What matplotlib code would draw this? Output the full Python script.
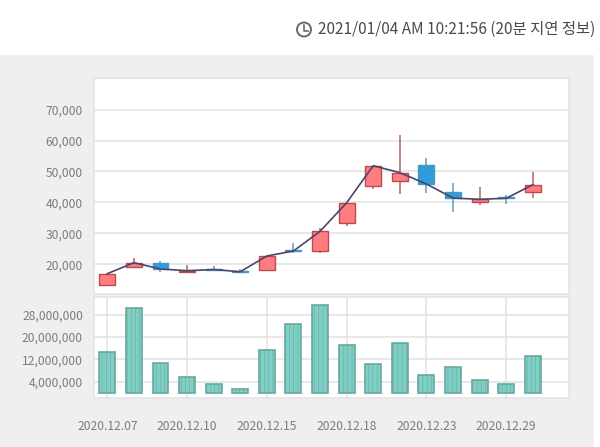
import matplotlib
matplotlib.use("Agg")
import matplotlib.pyplot as plt
from matplotlib.patches import Rectangle, Ellipse
from matplotlib.lines import Line2D
import numpy as np

plt.rcParams['font.family'] = ['Noto Sans CJK KR', 'DejaVu Sans']
plt.rcParams['hatch.color'] = '#68a89f'
plt.rcParams['hatch.linewidth'] = 0.4

dates = ['2020.12.07', '2020.12.08', '2020.12.09', '2020.12.10', '2020.12.11', '2020.12.14',
         '2020.12.15', '2020.12.16', '2020.12.17', '2020.12.18', '2020.12.21', '2020.12.22',
         '2020.12.23', '2020.12.24', '2020.12.28', '2020.12.29', '2020.12.30']
open_p = [13400, 19130, 20520, 17510, 18500, 17800, 18060, 24700, 24200, 33340, 45300, 46820,
          52200, 43450, 40230, 41650, 43260]
close_p = [16960, 20520, 18480, 17930, 18300, 17600, 22680, 24300, 30660, 39900, 51860, 49600,
           45950, 41400, 41000, 41330, 45720]
high_p = [16960, 21940, 21160, 19770, 19450, 18400, 22680, 26800, 31830, 39900, 51860, 61780,
          54440, 46370, 44880, 42400, 49820]
low_p = [13400, 19130, 17600, 17510, 17800, 17500, 18060, 23700, 23750, 32370, 44230, 42800,
         43130, 36990, 39260, 39600, 41520]
volume = [14550000, 30260000, 10750000, 5680000, 3190000, 1530000, 15360000, 24700000, 31430000,
          17030000, 10290000, 17950000, 6490000, 9440000, 4830000, 3190000, 13230000]

price_ticks = [20000, 30000, 40000, 50000, 60000, 70000]
vol_ticks = [4000000, 12000000, 20000000, 28000000]
date_ticks = [0, 3, 6, 9, 12, 15]

W, H = 600, 447
grid_c = '#e2e2e2'
text_c = '#7c7c7c'


def px_axes(x0, y0, x1, y1):
    # pixel box, y from the top of the picture
    return fig.add_axes([x0 / W, 1 - y1 / H, (x1 - x0) / W, (y1 - y0) / H])


fig = plt.figure(figsize=(6, 4.47), dpi=100, facecolor='white')
fig.add_artist(Rectangle((0, 0), 594 / W, 1 - 55 / H, transform=fig.transFigure, fc='#efefef', ec='none', zorder=-1))

x = np.arange(len(dates))

ax = px_axes(94, 78, 569, 294)
ax.set_xlim(-0.5, 17.36)
ax.set_ylim(20000 - 29.7 / 30.95 * 10000, 20000 + 186.3 / 30.95 * 10000)
ax.set_yticks(price_ticks)
ax.set_yticklabels([f'{v:,}' for v in price_ticks], fontsize=8.7, color=text_c)
ax.set_xticks([])
ax.grid(axis='y', color=grid_c, lw=1.1)
ax.set_axisbelow(True)
ax.tick_params(axis='y', length=0, pad=8)
for s in ax.spines.values():
    s.set_color(grid_c)
    s.set_linewidth(1.1)

for i in x:
    up = close_p[i] >= open_p[i]
    fc = '#ff7d80' if up else '#2f9dd9'
    ec = '#bf4a4e' if up else '#4d95c4'
    wick = '#bd6d70' if up else '#6ba3c9'
    ax.vlines(i, low_p[i], high_p[i], color=wick, lw=1.2, zorder=2)
    ax.bar(i, abs(close_p[i] - open_p[i]), bottom=min(open_p[i], close_p[i]), width=0.6,
           facecolor=fc, edgecolor=ec, lw=1.0, zorder=3)
ax.plot(x, close_p, color='#4a4668', lw=1.2, zorder=4)

ax2 = px_axes(94, 297, 569, 398)
ax2.set_xlim(-0.5, 17.36)
ax2.set_ylim(-1770000, 34270000)
ax2.set_yticks(vol_ticks)
ax2.set_yticklabels([f'{v:,}' for v in vol_ticks], fontsize=8.7, color=text_c)
ax2.set_xticks(date_ticks)
ax2.set_xticklabels([dates[i] for i in date_ticks], fontsize=8.7, color=text_c)
ax2.grid(axis='both', color=grid_c, lw=1.1)
ax2.set_axisbelow(True)
ax2.tick_params(axis='y', length=0, pad=8)
ax2.tick_params(axis='x', length=0, pad=16)
for s in ax2.spines.values():
    s.set_color(grid_c)
    s.set_linewidth(1.1)
ax2.bar(x, volume, width=0.6, facecolor='#7fcfc4', edgecolor='#68a89f', lw=1.2, hatch='||||', zorder=3)

# clock icon and time stamp
fig.add_artist(Ellipse((304 / W, 1 - 29.5 / H), 14 / W, 14 / H, transform=fig.transFigure, fc='none', ec='#6a6a6a', lw=1.4))
fig.add_artist(Line2D([304 / W, 304 / W, 308 / W], [1 - 25 / H, 1 - 30.5 / H, 1 - 30.5 / H], color='#6a6a6a', lw=1.2))
fig.text(318 / W, 1 - 29.5 / H, '2021/01/04 AM 10:21:56 (20분 지연 정보)', fontsize=11.1, color='#4a4a4a', va='center', ha='left')

fig.savefig('out.png', dpi=100)
